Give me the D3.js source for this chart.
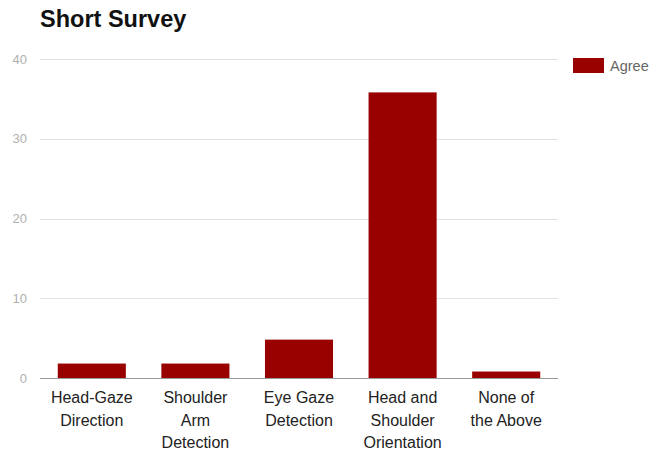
<!DOCTYPE html>
<html>
<head>
<meta charset="utf-8">
<script src="https://cdn.jsdelivr.net/npm/d3@7"></script>
<style>
  body { margin: 0; background: #fff; }
  svg { font-family: "Liberation Sans", Arial, sans-serif; }
</style>
</head>
<body>
<div id="vis"></div>
<script>
// chart data
const categories = [
  ["Head-Gaze", "Direction"],
  ["Shoulder", "Arm", "Detection"],
  ["Eye Gaze", "Detection"],
  ["Head and", "Shoulder", "Orientation"],
  ["None of", "the Above"]
];
const agree = [2, 2, 5, 36, 1];
const yTicks = [0, 10, 20, 30, 40];
const seriesName = "Agree";
const title = "Short Survey";

const width = 654;
const height = 450;
const margin = {top: 59, right: 96, bottom: 72, left: 40};

const svg = d3.select("#vis")
  .append("svg")
  .attr("width", width)
  .attr("height", height);

const x = d3.scaleBand()
  .domain(d3.range(categories.length))
  .range([margin.left, width - margin.right])
  .paddingInner(0.343)
  .paddingOuter(0.1715);

const y = d3.scaleLinear()
  .domain([0, 40])
  .range([height - margin.bottom, margin.top]);

// gridlines
svg.append("g")
  .selectAll("line")
  .data(yTicks.filter(d => d != 0))
  .join("line")
    .attr("x1", margin.left)
    .attr("x2", width - margin.right)
    .attr("y1", d => Math.round(y(d)) + 0.5)
    .attr("y2", d => Math.round(y(d)) + 0.5)
    .attr("stroke", "#e2e2e2");

// y tick labels
svg.append("g")
  .selectAll("text")
  .data(yTicks)
  .join("text")
    .attr("x", margin.left - 13)
    .attr("y", d => y(d) + 4.5)
    .attr("text-anchor", "end")
    .attr("font-size", 13)
    .attr("fill", "#b0b0b0")
    .text(d => d);

// bars
svg.append("g")
  .selectAll("rect")
  .data(agree)
  .join("rect")
    .attr("x", (d, i) => x(i))
    .attr("y", d => y(d) + 1.5)
    .attr("width", x.bandwidth())
    .attr("height", d => y(0) - y(d) - 1.5)
    .attr("fill", "#990000");

// baseline
svg.append("line")
  .attr("x1", margin.left)
  .attr("x2", width - margin.right)
  .attr("y1", Math.round(y(0)) + 0.5)
  .attr("y2", Math.round(y(0)) + 0.5)
  .attr("stroke", "#9a9a9a");

// x labels
const xl = svg.append("g")
  .selectAll("text")
  .data(categories)
  .join("text")
    .attr("text-anchor", "middle")
    .attr("font-size", 16)
    .attr("fill", "#222");

xl.each(function(lines, i) {
  d3.select(this).selectAll("tspan")
    .data(lines)
    .join("tspan")
      .attr("x", x(i) + x.bandwidth() / 2)
      .attr("y", (d, j) => 403 + j * 22.5)
      .text(d => d);
});

// title
svg.append("text")
  .attr("x", margin.left)
  .attr("y", 27)
  .attr("font-size", 23.5)
  .attr("font-weight", "bold")
  .attr("fill", "#111")
  .text(title);

// legend
svg.append("rect")
  .attr("x", 573)
  .attr("y", 58)
  .attr("width", 31)
  .attr("height", 15)
  .attr("fill", "#990000");

svg.append("text")
  .attr("x", 610)
  .attr("y", 71)
  .attr("font-size", 14.5)
  .attr("fill", "#666")
  .text(seriesName);
</script>
</body>
</html>
